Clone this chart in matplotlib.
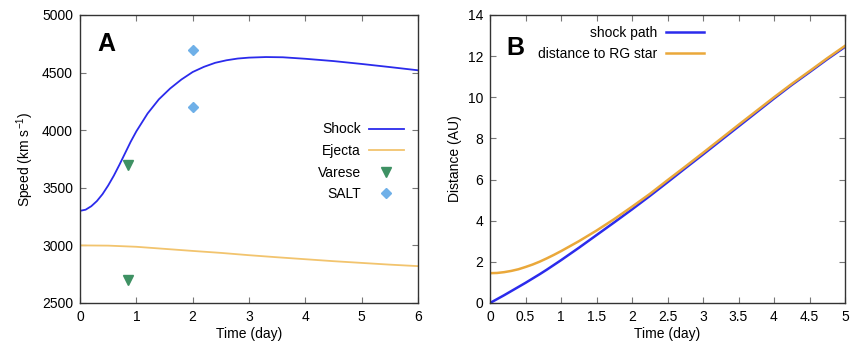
import numpy as np
import matplotlib.pyplot as plt

plt.rcParams['font.family'] = ['Liberation Sans', 'DejaVu Sans']

# Panel A: speeds (km/s) vs time (day)
t_a = [0, 0.1, 0.2, 0.3, 0.4, 0.5, 0.6, 0.7, 0.8, 0.9, 1.0, 1.2, 1.4, 1.6, 1.8, 2.0,
       2.2, 2.4, 2.6, 2.8, 3.0, 3.3, 3.6, 4.0, 4.5, 5.0, 5.5, 6.0]
shock_speed = [3300, 3310, 3340, 3385, 3445, 3520, 3605, 3700, 3800, 3900, 3990, 4145,
               4268, 4362, 4440, 4505, 4550, 4585, 4607, 4622, 4630, 4635, 4633, 4620,
               4600, 4575, 4548, 4520]
t_ej = [0, 0.5, 1, 1.5, 2, 2.5, 3, 3.5, 4, 4.5, 5, 5.5, 6]
ejecta_speed = [3000, 2998, 2988, 2970, 2952, 2935, 2915, 2897, 2880, 2863, 2848, 2833, 2820]
varese_t = [0.85, 0.85]
varese_v = [3700, 2700]
salt_t = [2.0, 2.0]
salt_v = [4700, 4200]

# Panel B: distances (AU) vs time (day)
t_b = [0, 0.1, 0.2, 0.3, 0.4, 0.5, 0.6, 0.7, 0.8, 0.9, 1.0, 1.25, 1.5, 1.75, 2.0, 2.25,
       2.5, 2.75, 3.0, 3.25, 3.5, 3.75, 4.0, 4.25, 4.5, 4.75, 5.0]
shock_path = [0.0, 0.19, 0.38, 0.58, 0.78, 0.98, 1.19, 1.4, 1.62, 1.85, 2.08, 2.68, 3.3,
              3.92, 4.55, 5.2, 5.87, 6.55, 7.22, 7.9, 8.58, 9.26, 9.94, 10.6, 11.22,
              11.85, 12.45]
rg_dist = [1.45, 1.46, 1.5, 1.56, 1.64, 1.75, 1.87, 2.01, 2.17, 2.34, 2.52, 3.0, 3.52,
           4.08, 4.68, 5.3, 5.97, 6.63, 7.3, 7.98, 8.66, 9.33, 10.0, 10.65, 11.27,
           11.9, 12.5]

fig = plt.figure(figsize=(8.52, 3.47), dpi=100)
ax1 = fig.add_axes([80 / 852, 44 / 347, 338 / 852, 288 / 347])
ax2 = fig.add_axes([490 / 852, 44 / 347, 355 / 852, 288 / 347])

blue = '#2b2bec'
orange_a = '#f2c46e'
orange_b = '#eaa83a'

ax1.plot(t_a, shock_speed, color=blue, lw=1.3, label='Shock')
ax1.plot(t_ej, ejecta_speed, color=orange_a, lw=1.3, label='Ejecta')
ax1.plot(varese_t, varese_v, ls='none', marker='v', ms=7, color='#3e9163', label='Varese')
ax1.plot(salt_t, salt_v, ls='none', marker='D', ms=5.5, color='#6fb0e8', label='SALT')
ax1.set_xlim(0, 6)
ax1.set_ylim(2500, 5000)
ax1.set_xticks(range(0, 7))
ax1.set_yticks(range(2500, 5001, 500))
ax1.set_xlabel('Time (day)', fontsize=10, labelpad=2)
ax1.set_ylabel('Speed (km s$^{\\mathregular{-1}}$)', fontsize=10)
ax1.legend(loc='center right', bbox_to_anchor=(0.995, 0.49), frameon=False, markerfirst=False,
           fontsize=10, handlelength=2.5, labelspacing=0.55, handletextpad=0.6)
ax1.text(0.05, 0.9, 'A', transform=ax1.transAxes, fontsize=18, fontweight='bold',
         ha='left', va='center')

ax2.plot(t_b, shock_path, color=blue, lw=1.8, label='shock path')
ax2.plot(t_b, rg_dist, color=orange_b, lw=1.8, label='distance to RG star')
ax2.set_xlim(0, 5)
ax2.set_ylim(0, 14)
ax2.set_xticks(np.arange(0, 5.01, 0.5))
ax2.set_xticklabels(['0', '0.5', '1', '1.5', '2', '2.5', '3', '3.5', '4', '4.5', '5'])
ax2.set_yticks(range(0, 15, 2))
ax2.set_xlabel('Time (day)', fontsize=10, labelpad=2)
ax2.set_ylabel('Distance (AU)', fontsize=10)
ax2.legend(loc='upper left', bbox_to_anchor=(0.1, 1.005), frameon=False, markerfirst=False,
           fontsize=10, handlelength=2.8, labelspacing=0.5, handletextpad=0.6)
ax2.text(0.045, 0.885, 'B', transform=ax2.transAxes, fontsize=18, fontweight='bold',
         ha='left', va='center')

for ax in (ax1, ax2):
    ax.tick_params(direction='in', top=True, right=True, labelsize=10, length=4,
                   color='#777777', pad=5)
    for s in ax.spines.values():
        s.set_color('#333333')
        s.set_linewidth(1.0)

fig.savefig('out.png', dpi=100)
